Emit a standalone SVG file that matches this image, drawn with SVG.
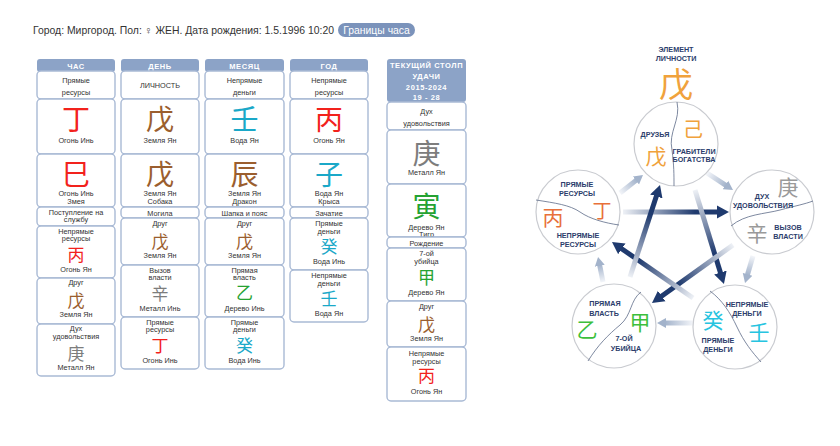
<svg xmlns="http://www.w3.org/2000/svg" width="840" height="446" viewBox="0 0 840 446">
<style>
.t{font-family:"Liberation Sans",Arial,sans-serif;font-size:7.3px;fill:#333;text-anchor:middle}
.hd{font-family:"Liberation Sans",Arial,sans-serif;font-size:7.5px;font-weight:bold;fill:#fff;text-anchor:middle;letter-spacing:0.6px}
.b{fill:#fff;stroke:#a9bad5;stroke-width:1.4}
.h{fill:#8ca3c7}
.cj{font-family:"Noto Sans CJK SC","Noto Sans CJK JP",sans-serif;text-anchor:middle}
.big{font-size:28px}
.sm{font-size:17px}
.fire{fill:#f2221c}.earth{fill:#9b5e2e}.water{fill:#1aa8c8}.metal{fill:#7d7d7d}.wood{fill:#25a232}
.wl{font-family:"Liberation Sans",Arial,sans-serif;font-size:7.2px;font-weight:bold;fill:#2b3d6b;text-anchor:middle}
.wc{font-family:"Noto Sans CJK SC","Noto Sans CJK JP",sans-serif;text-anchor:middle;font-size:21px}
.circ{fill:#fff;stroke:#c9cbd0;stroke-width:1.2}
.dv{fill:none;stroke:#5d6b88;stroke-width:0.8}
.da{stroke-width:5;fill:none}
.la{stroke-width:5;fill:none}
</style>
<defs>
<marker id="hd" markerUnits="userSpaceOnUse" viewBox="0 -7 14 14" markerWidth="14" markerHeight="14" refX="2" refY="0" orient="auto"><path d="M0,-6.5 L12,0 L0,6.5 z" fill="#1f3a6e"/></marker>
<marker id="hl" markerUnits="userSpaceOnUse" viewBox="0 -6 11 12" markerWidth="11" markerHeight="12" refX="1" refY="0" orient="auto"><path d="M0,-5 L9,0 L0,5 z" fill="#a3b3cb"/></marker>
<linearGradient id="g1" gradientUnits="userSpaceOnUse" x1="623" y1="212" x2="719" y2="212"><stop offset="0" stop-color="#eef1f6"/><stop offset="0.75" stop-color="#1f3a6e"/></linearGradient>
<linearGradient id="g2" gradientUnits="userSpaceOnUse" x1="695" y1="190" x2="721" y2="274.4"><stop offset="0" stop-color="#eef1f6"/><stop offset="0.75" stop-color="#1f3a6e"/></linearGradient>
<linearGradient id="g3" gradientUnits="userSpaceOnUse" x1="733" y1="245" x2="660.1" y2="297.2"><stop offset="0" stop-color="#eef1f6"/><stop offset="0.75" stop-color="#1f3a6e"/></linearGradient>
<linearGradient id="g4" gradientUnits="userSpaceOnUse" x1="693" y1="298" x2="620.2" y2="247.7"><stop offset="0" stop-color="#eef1f6"/><stop offset="0.75" stop-color="#1f3a6e"/></linearGradient>
<linearGradient id="g5" gradientUnits="userSpaceOnUse" x1="630" y1="277" x2="656.9" y2="194.5"><stop offset="0" stop-color="#eef1f6"/><stop offset="0.75" stop-color="#1f3a6e"/></linearGradient>
<linearGradient id="l1" gradientUnits="userSpaceOnUse" x1="620" y1="193" x2="636.7" y2="179.9"><stop offset="0" stop-color="#f3f5f9"/><stop offset="1" stop-color="#a3b3cb"/></linearGradient>
<linearGradient id="l2" gradientUnits="userSpaceOnUse" x1="707" y1="173" x2="726.3" y2="185.6"><stop offset="0" stop-color="#f3f5f9"/><stop offset="1" stop-color="#a3b3cb"/></linearGradient>
<linearGradient id="l3" gradientUnits="userSpaceOnUse" x1="753" y1="256" x2="747.3" y2="275.3"><stop offset="0" stop-color="#f3f5f9"/><stop offset="1" stop-color="#a3b3cb"/></linearGradient>
<linearGradient id="l4" gradientUnits="userSpaceOnUse" x1="693" y1="323" x2="665" y2="323"><stop offset="0" stop-color="#f3f5f9"/><stop offset="1" stop-color="#a3b3cb"/></linearGradient>
<linearGradient id="l5" gradientUnits="userSpaceOnUse" x1="603" y1="282" x2="599.6" y2="264.8"><stop offset="0" stop-color="#f3f5f9"/><stop offset="1" stop-color="#a3b3cb"/></linearGradient>
</defs>
<rect width="840" height="446" fill="#fff"/>

<g id="title">
<text x="33" y="34" textLength="301" lengthAdjust="spacingAndGlyphs" style="font-family:'Liberation Sans',Arial,sans-serif;font-size:10.5px;fill:#333">Город: Миргород. Пол: ♀ ЖЕН. Дата рождения: 1.5.1996 10:20</text>
<rect x="338" y="23" width="77" height="14" rx="7" fill="#7b93bb"/>
<text x="376.5" y="33.6" style="font-family:'Liberation Sans',Arial,sans-serif;font-size:10.4px;fill:#fff;text-anchor:middle">Границы часа</text>
</g>

<g id="col-hour">
<rect class="h" x="37" y="59" width="78" height="13" rx="3"/>
<text class="hd" x="76" y="68.5">ЧАС</text>
<rect class="b" x="37" y="71" width="78" height="28" rx="4"/>
<text class="t" x="76" y="83">Прямые</text><text class="t" x="76" y="95">ресурсы</text>
<rect class="b" x="37" y="99" width="78" height="55" rx="4"/>
<text class="cj big fire" x="76" y="130">丁</text><text class="t" x="76" y="143">Огонь Инь</text>
<rect class="b" x="37" y="154" width="78" height="53" rx="4"/>
<text class="cj big fire" x="76" y="185">巳</text><text class="t" x="76" y="196">Огонь Инь</text><text class="t" x="76" y="203.5">Змея</text>
<rect class="b" x="37" y="207" width="78" height="19" rx="4"/>
<text class="t" x="76" y="214.5">Поступление на</text><text class="t" x="76" y="222">службу</text>
<rect class="b" x="37" y="226" width="78" height="52" rx="4"/>
<text class="t" x="76" y="234">Непрямые</text><text class="t" x="76" y="241">ресурсы</text>
<text class="cj sm fire" x="76" y="260.5">丙</text><text class="t" x="76" y="272">Огонь Ян</text>
<rect class="b" x="37" y="278" width="78" height="46" rx="4"/>
<text class="t" x="76" y="285">Друг</text>
<text class="cj sm earth" x="76" y="306.5">戊</text><text class="t" x="76" y="317">Земля Ян</text>
<rect class="b" x="37" y="324" width="78" height="52" rx="4"/>
<text class="t" x="76" y="331">Дух</text><text class="t" x="76" y="338.5">удовольствия</text>
<text class="cj sm metal" x="76" y="359.5">庚</text><text class="t" x="76" y="370">Металл Ян</text>
</g>

<g id="col-day">
<rect class="h" x="121" y="59" width="78" height="13" rx="3"/>
<text class="hd" x="160" y="68.5">ДЕНЬ</text>
<rect class="b" x="121" y="71" width="78" height="28" rx="4"/>
<text class="t" x="160" y="88">ЛИЧНОСТЬ</text>
<rect class="b" x="121" y="99" width="78" height="55" rx="4"/>
<text class="cj big earth" x="160" y="130">戊</text><text class="t" x="160" y="143">Земля Ян</text>
<rect class="b" x="121" y="154" width="78" height="53" rx="4"/>
<text class="cj big earth" x="160" y="184.5">戊</text><text class="t" x="160" y="196">Земля Ян</text><text class="t" x="160" y="203.5">Собака</text>
<rect class="b" x="121" y="207" width="78" height="11" rx="4"/>
<text class="t" x="160" y="215.5">Могила</text>
<rect class="b" x="121" y="218" width="78" height="47" rx="4"/>
<text class="t" x="160" y="226">Друг</text>
<text class="cj sm earth" x="160" y="247.5">戊</text><text class="t" x="160" y="258">Земля Ян</text>
<rect class="b" x="121" y="265" width="78" height="52" rx="4"/>
<text class="t" x="160" y="272.5">Вызов</text><text class="t" x="160" y="280">власти</text>
<text class="cj sm metal" x="160" y="299.5">辛</text><text class="t" x="160" y="311">Металл Инь</text>
<rect class="b" x="121" y="317" width="78" height="52" rx="4"/>
<text class="t" x="160" y="324.5">Прямые</text><text class="t" x="160" y="332">ресурсы</text>
<text class="cj sm fire" x="160" y="351.5">丁</text><text class="t" x="160" y="363">Огонь Инь</text>
</g>

<g id="col-month">
<rect class="h" x="205" y="59" width="79" height="13" rx="3"/>
<text class="hd" x="244.5" y="68.5">МЕСЯЦ</text>
<rect class="b" x="205" y="71" width="79" height="28" rx="4"/>
<text class="t" x="244.5" y="83">Непрямые</text><text class="t" x="244.5" y="95">деньги</text>
<rect class="b" x="205" y="99" width="79" height="55" rx="4"/>
<text class="cj big water" x="244.5" y="130">壬</text><text class="t" x="244.5" y="143">Вода Ян</text>
<rect class="b" x="205" y="154" width="79" height="53" rx="4"/>
<text class="cj big earth" x="244.5" y="184.5">辰</text><text class="t" x="244.5" y="196">Земля Ян</text><text class="t" x="244.5" y="203.5">Дракон</text>
<rect class="b" x="205" y="207" width="79" height="11" rx="4"/>
<text class="t" x="244.5" y="215.5">Шапка и пояс</text>
<rect class="b" x="205" y="218" width="79" height="47" rx="4"/>
<text class="t" x="244.5" y="226">Друг</text>
<text class="cj sm earth" x="244.5" y="247.5">戊</text><text class="t" x="244.5" y="258">Земля Ян</text>
<rect class="b" x="205" y="265" width="79" height="52" rx="4"/>
<text class="t" x="244.5" y="272.5">Прямая</text><text class="t" x="244.5" y="280">власть</text>
<text class="cj sm wood" x="244.5" y="299">乙</text><text class="t" x="244.5" y="311">Дерево Инь</text>
<rect class="b" x="205" y="317" width="79" height="52" rx="4"/>
<text class="t" x="244.5" y="324.5">Прямые</text><text class="t" x="244.5" y="332">деньги</text>
<text class="cj sm water" x="244.5" y="351.5">癸</text><text class="t" x="244.5" y="363">Вода Инь</text>
</g>

<g id="col-year">
<rect class="h" x="290" y="59" width="78" height="13" rx="3"/>
<text class="hd" x="329" y="68.5">ГОД</text>
<rect class="b" x="290" y="71" width="78" height="28" rx="4"/>
<text class="t" x="329" y="83">Непрямые</text><text class="t" x="329" y="95">ресурсы</text>
<rect class="b" x="290" y="99" width="78" height="55" rx="4"/>
<text class="cj big fire" x="329" y="130">丙</text><text class="t" x="329" y="143">Огонь Ян</text>
<rect class="b" x="290" y="154" width="78" height="53" rx="4"/>
<text class="cj big water" x="329" y="184.5">子</text><text class="t" x="329" y="196">Вода Ян</text><text class="t" x="329" y="203.5">Крыса</text>
<rect class="b" x="290" y="207" width="78" height="11" rx="4"/>
<text class="t" x="329" y="215.5">Зачатие</text>
<rect class="b" x="290" y="218" width="78" height="52" rx="4"/>
<text class="t" x="329" y="226">Прямые</text><text class="t" x="329" y="233.5">деньги</text>
<text class="cj sm water" x="329" y="252.5">癸</text><text class="t" x="329" y="264">Вода Инь</text>
<rect class="b" x="290" y="270" width="78" height="52" rx="4"/>
<text class="t" x="329" y="278">Непрямые</text><text class="t" x="329" y="285.5">деньги</text>
<text class="cj sm water" x="329" y="304.5">壬</text><text class="t" x="329" y="316">Вода Ян</text>
</g>

<g id="col-luck">
<rect class="h" x="387" y="59" width="79" height="43" rx="3"/>
<text class="hd" x="426.5" y="67.5">ТЕКУЩИЙ СТОЛП</text>
<text class="hd" x="426.5" y="78.5">УДАЧИ</text>
<text class="hd" x="426.5" y="89.5">2015-2024</text>
<text class="hd" x="426.5" y="100">19 - 28</text>
<rect class="b" x="387" y="102" width="79" height="28" rx="4"/>
<text class="t" x="426.5" y="114">Дух</text><text class="t" x="426.5" y="126">удовольствия</text>
<rect class="b" x="387" y="130" width="79" height="54" rx="4"/>
<text class="cj big metal" x="426.5" y="164">庚</text><text class="t" x="426.5" y="175">Металл Ян</text>
<rect class="b" x="387" y="184" width="79" height="53" rx="4"/>
<text class="cj big wood" x="426.5" y="217">寅</text><text class="t" x="426.5" y="230">Дерево Ян</text><text class="t" x="426.5" y="237">Тигр</text>
<rect class="b" x="387" y="237" width="79" height="11" rx="4"/>
<text class="t" x="426.5" y="245.5">Рождение</text>
<rect class="b" x="387" y="248" width="79" height="53" rx="4"/>
<text class="t" x="426.5" y="256">7-ой</text><text class="t" x="426.5" y="263.5">убийца</text>
<text class="cj sm wood" x="426.5" y="283.5">甲</text><text class="t" x="426.5" y="295">Дерево Ян</text>
<rect class="b" x="387" y="301" width="79" height="46" rx="4"/>
<text class="t" x="426.5" y="309">Друг</text>
<text class="cj sm earth" x="426.5" y="330.5">戊</text><text class="t" x="426.5" y="341">Земля Ян</text>
<rect class="b" x="387" y="347" width="79" height="54" rx="4"/>
<text class="t" x="426.5" y="356">Непрямые</text><text class="t" x="426.5" y="363.5">ресурсы</text>
<text class="cj sm fire" x="426.5" y="381.5">丙</text><text class="t" x="426.5" y="394">Огонь Ян</text>
</g>

<g id="wheel-title">
<text class="wl" x="676" y="52">ЭЛЕМЕНТ</text>
<text class="wl" x="676" y="61">ЛИЧНОСТИ</text>
<text class="cj" x="676" y="97" style="font-size:34px;fill:#f0a23c">戊</text>
</g>

<g id="connectors">
<line class="la" x1="620" y1="193" x2="636.7" y2="179.9" stroke="url(#l1)" marker-end="url(#hl)"/>
<line class="la" x1="707" y1="173" x2="726.3" y2="185.6" stroke="url(#l2)" marker-end="url(#hl)"/>
<line class="la" x1="753" y1="256" x2="747.3" y2="275.3" stroke="url(#l3)" marker-end="url(#hl)"/>
<line class="la" x1="693" y1="323" x2="665" y2="323" stroke="url(#l4)" marker-end="url(#hl)"/>
<line class="la" x1="603" y1="282" x2="599.6" y2="264.8" stroke="url(#l5)" marker-end="url(#hl)"/>
<line class="da" x1="623" y1="212" x2="719" y2="212" stroke="url(#g1)" marker-end="url(#hd)"/>
<line class="da" x1="695" y1="190" x2="721" y2="274.4" stroke="url(#g2)" marker-end="url(#hd)"/>
<line class="da" x1="733" y1="245" x2="660.1" y2="297.2" stroke="url(#g3)" marker-end="url(#hd)"/>
<line class="da" x1="693" y1="298" x2="620.2" y2="247.7" stroke="url(#g4)" marker-end="url(#hd)"/>
<line class="da" x1="630" y1="277" x2="656.9" y2="194.5" stroke="url(#g5)" marker-end="url(#hd)"/>
</g>

<g id="earth-circle">
<circle class="circ" cx="676" cy="144" r="42"/>
<path class="dv" d="M677,102 C681,120 668,132 672,150 C674,165 674,175 674,186"/>
<text class="wl" x="655" y="137">ДРУЗЬЯ</text>
<text class="wc" x="656" y="164" style="fill:#f0a23c">戊</text>
<text class="wc" x="693" y="137" style="fill:#f0a23c;font-size:20px">己</text>
<text class="wl" x="694" y="154">ГРАБИТЕЛИ</text>
<text class="wl" x="694" y="162">БОГАТСТВА</text>
</g>

<g id="metal-circle">
<circle class="circ" cx="772" cy="212" r="42"/>
<path class="dv" d="M731,226 C745,214 765,214 780,210 C795,206 805,204 813,201"/>
<text class="wc" x="788" y="195" style="fill:#9a9a9a">庚</text>
<text class="wl" x="762" y="199">ДУХ</text>
<text class="wl" x="763" y="208">УДОВОЛЬСТВИЯ</text>
<text class="wc" x="757" y="241" style="fill:#9a9a9a">辛</text>
<text class="wl" x="788" y="230">ВЫЗОВ</text>
<text class="wl" x="788" y="239">ВЛАСТИ</text>
</g>

<g id="water-circle">
<circle class="circ" cx="735" cy="327" r="42"/>
<path class="dv" d="M710,291 C722,300 730,312 737,327 C744,342 752,352 761,362"/>
<text class="wl" x="747" y="307">НЕПРЯМЫЕ</text>
<text class="wl" x="747" y="316">ДЕНЬГИ</text>
<text class="wc" x="713" y="328" style="fill:#27c4e0">癸</text>
<text class="wc" x="759" y="340" style="fill:#27c4e0">壬</text>
<text class="wl" x="718" y="343">ПРЯМЫЕ</text>
<text class="wl" x="718" y="352">ДЕНЬГИ</text>
</g>

<g id="wood-circle">
<circle class="circ" cx="614" cy="326" r="42"/>
<path class="dv" d="M641,292 C630,300 632,315 620,325 C608,335 598,345 588,361"/>
<text class="wl" x="605" y="306">ПРЯМАЯ</text>
<text class="wl" x="604" y="316">ВЛАСТЬ</text>
<text class="wc" x="587" y="337" style="fill:#3cbf3c">乙</text>
<text class="wc" x="640" y="330" style="fill:#3cbf3c">甲</text>
<text class="wl" x="624" y="341">7-ОЙ</text>
<text class="wl" x="626" y="351">УБИЙЦА</text>
</g>

<g id="fire-circle">
<circle class="circ" cx="578" cy="212" r="42"/>
<path class="dv" d="M536,200 C555,203 570,205 580,212 C590,219 605,223 619,225"/>
<text class="wl" x="577" y="187">ПРЯМЫЕ</text>
<text class="wl" x="577" y="196">РЕСУРСЫ</text>
<text class="wc" x="553" y="225" style="fill:#e8703a">丙</text>
<text class="wc" x="602" y="218" style="fill:#e8703a;font-size:19px">丁</text>
<text class="wl" x="578" y="238">НЕПРЯМЫЕ</text>
<text class="wl" x="578" y="247">РЕСУРСЫ</text>
</g>
</svg>
